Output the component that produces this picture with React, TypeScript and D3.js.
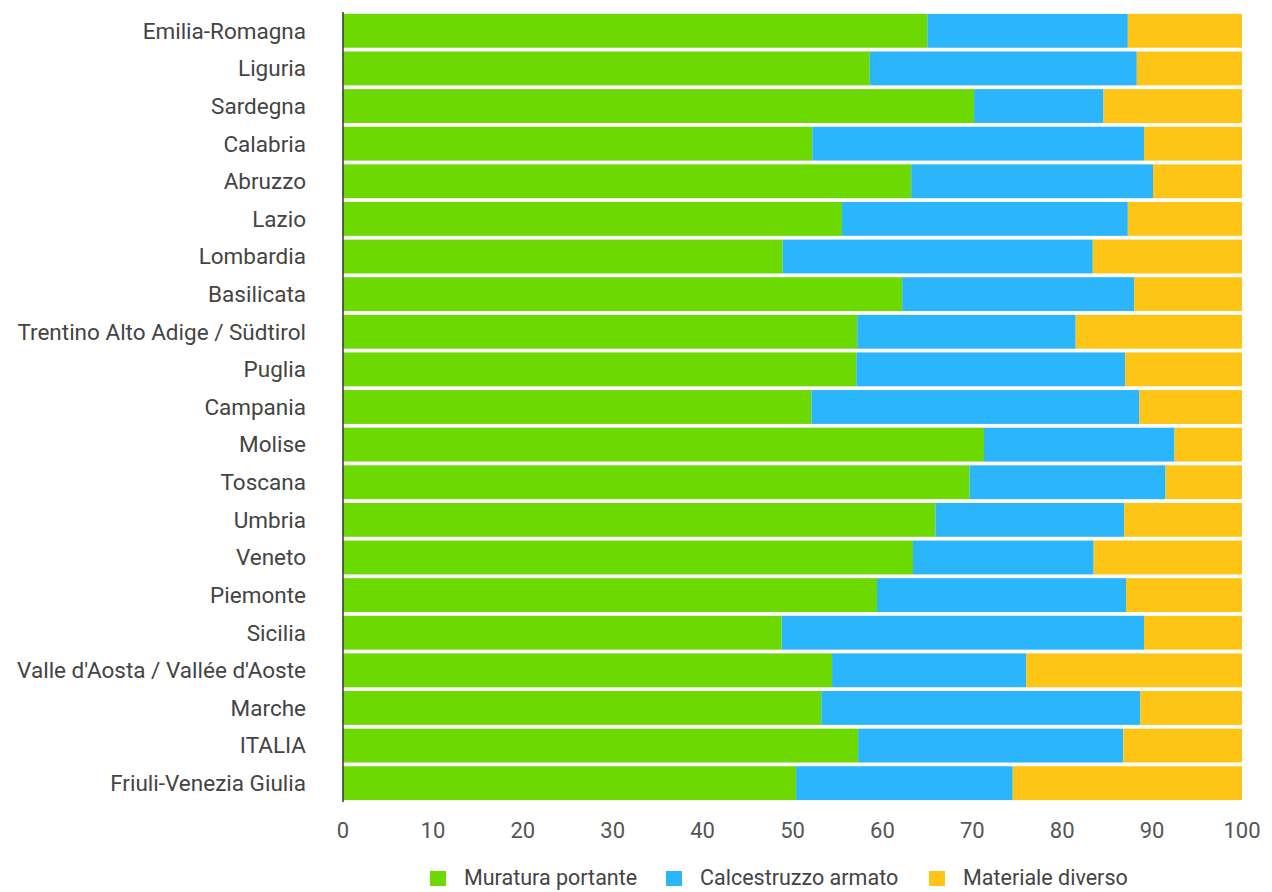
import React from "react";
import * as d3 from "d3";

const categories = [
  "Emilia-Romagna", "Liguria", "Sardegna", "Calabria", "Abruzzo", "Lazio",
  "Lombardia", "Basilicata", "Trentino Alto Adige / Südtirol", "Puglia",
  "Campania", "Molise", "Toscana", "Umbria", "Veneto", "Piemonte", "Sicilia",
  "Valle d'Aosta / Vallée d'Aoste", "Marche", "ITALIA", "Friuli-Venezia Giulia",
];
const muratura = [65.0, 58.6, 70.2, 52.2, 63.2, 55.5, 48.9, 62.2, 57.2, 57.1, 52.1, 71.3, 69.7, 65.9, 63.4, 59.4, 48.8, 54.4, 53.2, 57.3, 50.4];
const calcestruzzo = [22.3, 29.7, 14.4, 36.9, 26.9, 31.8, 34.5, 25.8, 24.3, 29.9, 36.5, 21.2, 21.8, 21.0, 20.1, 27.7, 40.3, 21.6, 35.5, 29.5, 24.1];
const materiale = [12.7, 11.7, 15.4, 10.9, 9.9, 12.7, 16.6, 12.0, 18.5, 13.0, 11.4, 7.5, 8.5, 13.1, 16.5, 12.9, 10.9, 24.0, 11.3, 13.2, 25.5];
const seriesNames = ["Muratura portante", "Calcestruzzo armato", "Materiale diverso"];
const seriesColors = ["#6cd900", "#2bb6fb", "#fec416"];
const ticks = [0, 10, 20, 30, 40, 50, 60, 70, 80, 90, 100];

const FONT = "Roboto, 'Open Sans', sans-serif";

export default function App() {
  const W = 1272, H = 892;
  const x = d3.scaleLinear().domain([0, 100]).range([343, 1242]);
  const y = d3.scaleBand<string>().domain(categories).range([12, 802]).paddingInner(0.1).paddingOuter(0.05);
  const rows = categories.map((c, i) => ({ c, v: [muratura[i], calcestruzzo[i], materiale[i]] }));
  const stack = d3.stack<any>().keys(["0", "1", "2"]).value((d: any, k: string) => d.v[+k]);
  const layers = stack(rows);
  const legendX = [430, 666, 929];
  return (
    <svg width={W} height={H} style={{ position: "absolute", left: 0, top: 0, background: "#fff" }} fontFamily={FONT}>
      {layers.map((layer, si) => (
        <g key={si} fill={seriesColors[si]}>
          {layer.map((d: any, i) => (
            <rect key={i} x={x(d[0])} y={y(categories[i])} width={Math.max(0, x(Math.min(100, d[1])) - x(d[0]))} height={y.bandwidth()} />
          ))}
        </g>
      ))}
      <line x1={x(0)} x2={x(0)} y1={12} y2={802} stroke="#333" strokeWidth={1.5} />
      {categories.map((c) => (
        <text key={c} x={306} y={(y(c) as number) + y.bandwidth() / 2} dy="0.35em" textAnchor="end" fontSize={22.5} fill="#444">{c}</text>
      ))}
      {ticks.map((t) => (
        <text key={t} x={x(t)} y={830} dy="0.35em" textAnchor="middle" fontSize={22} fill="#555">{t}</text>
      ))}
      {seriesNames.map((n, i) => (
        <g key={n}>
          <rect x={legendX[i]} y={871} width={16} height={15} fill={seriesColors[i]} />
          <text x={legendX[i] + 34} y={877} dy="0.35em" fontSize={21.5} fill="#444">{n}</text>
        </g>
      ))}
    </svg>
  );
}
